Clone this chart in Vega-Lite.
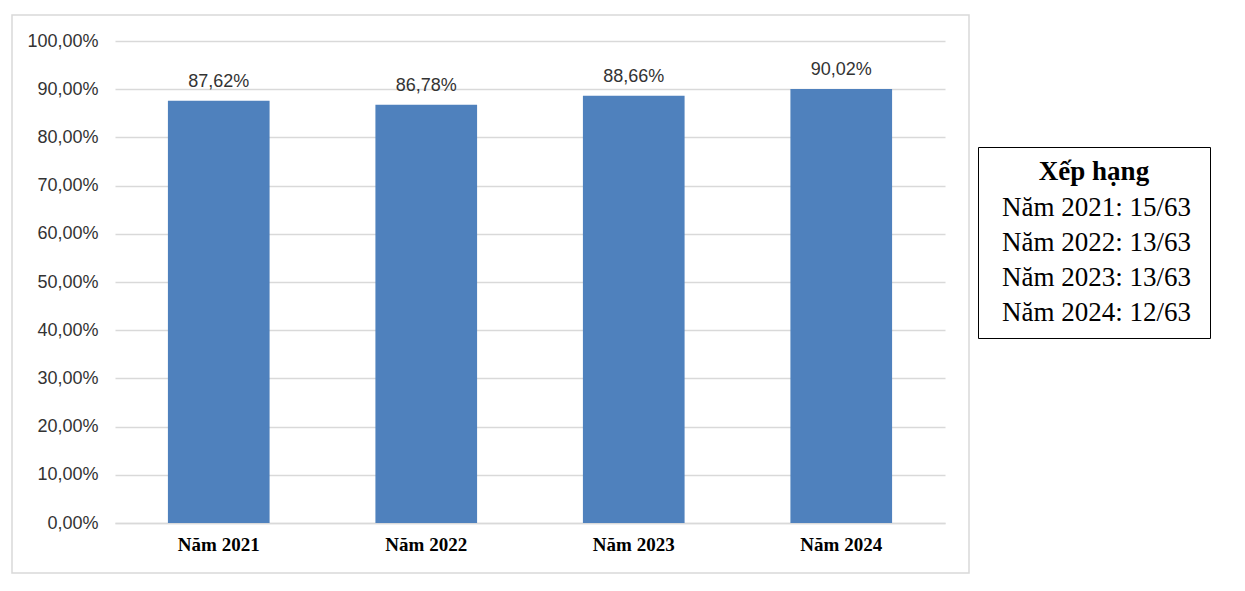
{
  "$schema": "https://vega.github.io/schema/vega-lite/v6.json",
  "autosize": "none",
  "width": 957,
  "height": 558,
  "padding": {"left": 12, "top": 15, "right": 276, "bottom": 18},
  "background": "white",
  "config": {
    "locale": {"number": {"decimal": ",", "thousands": ".", "grouping": [3], "currency": ["", " €"]}},
    "view": {"stroke": "#d9d9d9", "strokeWidth": 1.5},
    "font": "Liberation Sans"
  },
  "data": {"values": [
    {"year": "Năm 2021", "value": 0.8762, "rank": "Năm 2021: 15/63"},
    {"year": "Năm 2022", "value": 0.8678, "rank": "Năm 2022:  13/63"},
    {"year": "Năm 2023", "value": 0.8866, "rank": "Năm 2023: 13/63"},
    {"year": "Năm 2024", "value": 0.9002, "rank": "Năm 2024: 12/63"}
  ]},
  "encoding": {
    "x": {
      "field": "year", "type": "nominal", "sort": null,
      "scale": {"range": [103, 933], "paddingInner": 0.51, "paddingOuter": 0.255},
      "axis": {"title": null, "orient": "bottom", "offset": -50, "domain": true, "domainColor": "#d9d9d9", "domainWidth": 1.5, "ticks": false, "grid": false, "labelAngle": 0, "labelFont": "Liberation Serif", "labelFontWeight": "bold", "labelFontSize": 19, "labelColor": "black", "labelPadding": 12}
    },
    "y": {
      "field": "value", "type": "quantitative",
      "scale": {"domain": [0, 1], "range": [508, 26], "nice": false, "zero": true},
      "axis": {"title": null, "orient": "left", "offset": -103, "domain": false, "ticks": false, "grid": true, "gridColor": "#d9d9d9", "gridWidth": 1.5, "values": [0, 0.1, 0.2, 0.3, 0.4, 0.5, 0.6, 0.7, 0.8, 0.9, 1], "format": ".2%", "labelFontSize": 18, "labelColor": "#333333", "labelPadding": 17}
    }
  },
  "layer": [
    {
      "mark": {"type": "bar", "color": "#4F81BD"},
      "encoding": {
        "color": {
          "field": "rank", "type": "nominal",
          "scale": {"range": ["#4F81BD", "#4F81BD", "#4F81BD", "#4F81BD"]},
          "legend": {
            "title": "Xếp hạng", "orient": "none", "legendX": 966, "legendY": 132,
            "strokeColor": "black", "padding": 12,
            "titleFont": "Liberation Serif", "titleFontSize": 27, "titleFontWeight": "bold", "titleAnchor": "middle", "titleColor": "black", "titlePadding": 8,
            "labelFont": "Liberation Serif", "labelFontSize": 27, "labelColor": "black", "labelLimit": 400,
            "symbolSize": 1, "symbolOpacity": 0, "symbolStrokeWidth": 0, "labelOffset": -15, "rowPadding": 7
          }
        }
      }
    },
    {
      "mark": {"type": "text", "baseline": "bottom", "dy": -10, "fontSize": 18, "color": "#333333"},
      "encoding": {"text": {"field": "value", "type": "quantitative", "format": ".2%"}}
    }
  ]
}
